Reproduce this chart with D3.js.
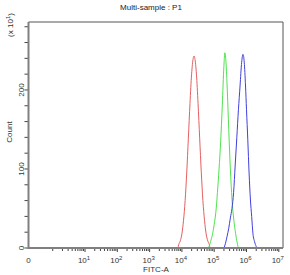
<!doctype html>
<html lang="en">
<head>
    <meta charset="utf-8">
    <title>Multi-sample : P1</title>
    <script src="https://d3js.org/d3.v7.min.js"></script>
    <style type="text/css">
    body { margin: 0; background: #fff; }
    text { font-family: "Liberation Sans", Arial, sans-serif; fill: #333; }
    .peak { fill: none; stroke-width: 1; }
    </style>
</head>

<body>
</body>

<script type="text/javascript">

    // x positions are log10(FITC-A), counts are in units of 10 (x 10^1)
    var redLog   = [3.88, 3.90, 3.95, 4.00, 4.05, 4.10, 4.15, 4.20, 4.25, 4.30, 4.35, 4.375,
                    4.40, 4.45, 4.50, 4.55, 4.60, 4.65, 4.70, 4.75, 4.80, 4.85, 4.87];
    var redCount = [0, 4, 9, 18, 35, 60, 96, 139, 183, 220, 240, 243,
                    240, 220, 183, 139, 96, 60, 35, 18, 9, 4, 0];

    var greenLog   = [4.80, 4.85, 4.90, 4.95, 5.00, 5.05, 5.10, 5.15, 5.20, 5.25, 5.30, 5.33,
                      5.36, 5.40, 5.45, 5.50, 5.55, 5.60, 5.65, 5.70, 5.75];
    var greenCount = [0, 3, 10, 18, 30, 45, 70, 100, 135, 180, 230, 247,
                      238, 205, 150, 100, 62, 38, 22, 9, 0];

    var blueLog   = [5.30, 5.35, 5.40, 5.45, 5.50, 5.55, 5.60, 5.65, 5.70, 5.75, 5.80, 5.85, 5.89,
                     5.93, 5.97, 6.00, 6.04, 6.08, 6.12, 6.16, 6.20, 6.25, 6.30, 6.33];
    var blueCount = [0, 6, 15, 25, 38, 50, 70, 105, 140, 175, 205, 235, 245,
                     235, 205, 175, 137, 95, 62, 40, 18, 8, 2, 0];

    var xDecades = [1, 2, 3, 4, 5, 6, 7];
    var yMajor = [0, 100, 200];
    var yMinor = [20, 40, 60, 80, 120, 140, 160, 180, 220, 240, 260, 280];

    var W = 290, H = 275;
    var pL = 28.5, pR = 283, pT = 22, pB = 248;

    var svg = d3.select("body")
    .append("svg")
    .attr("width", W)
    .attr("height", H);

    var x = d3.scaleLinear().domain([-0.75, 7.13]).range([pL, pR]);
    var y = d3.scaleLinear().domain([0, 286]).range([pB, pT]);

    // frame: top and right thin
    svg.append("path")
    .attr("d", "M" + pL + "," + pT + "H" + pR + "V" + pB)
    .attr("fill", "none")
    .attr("stroke", "#555")
    .attr("stroke-width", 1);

    // peaks
    var line = d3.line()
    .x(d => x(d[0]))
    .y(d => y(d[1]))
    .curve(d3.curveMonotoneX);

    var series = [
      {lg: redLog, ct: redCount, color: "#e46060"},
      {lg: greenLog, ct: greenCount, color: "#4fe24f"},
      {lg: blueLog, ct: blueCount, color: "#4040dc"}
    ];

    series.forEach(function(s) {
      svg.append("path")
      .attr("class", "peak")
      .attr("stroke", s.color)
      .attr("d", line(d3.zip(s.lg, s.ct)));
    });

    // x minor + major ticks
    var xTicks = [];
    for (var dec = 0; dec < 7; dec++) {
      for (var k = 1; k < 10; k++) xTicks.push({v: dec + Math.log10(k), major: k == 1 && dec > 0});
    }
    xTicks.push({v: 7, major: true});
    xTicks.push({v: 7 + Math.log10(2), major: false});

    svg.selectAll(".xt")
    .data(xTicks.filter(t => x(t.v) < pR - 1))
    .enter()
    .append("line")
    .attr("x1", d => x(d.v)).attr("x2", d => x(d.v))
    .attr("y1", pB).attr("y2", d => pB + (d.major ? 4 : 3))
    .attr("stroke", "#444")
    .attr("stroke-width", 1);

    // y ticks
    svg.selectAll(".yt")
    .data(yMajor.concat(yMinor))
    .enter()
    .append("line")
    .attr("x1", pL - 4).attr("x2", pL)
    .attr("y1", d => y(d)).attr("y2", d => y(d))
    .attr("stroke", "#444")
    .attr("stroke-width", 1);

    // left and bottom axes (thicker gray)
    svg.append("path")
    .attr("d", "M" + pL + "," + pT + "V" + pB + "H" + pR)
    .attr("fill", "none")
    .attr("stroke", "#808080")
    .attr("stroke-width", 2);

    // x tick labels
    svg.append("text")
    .attr("x", pL).attr("y", 263)
    .attr("text-anchor", "middle")
    .attr("font-size", 8)
    .text("0");

    xDecades.forEach(function(p) {
      var t = svg.append("text")
      .attr("x", x(p) - 1).attr("y", 263)
      .attr("text-anchor", "middle")
      .attr("font-size", 8);
      t.append("tspan").text("10");
      t.append("tspan").attr("dy", -3).attr("font-size", 6).text(p);
    });

    // y tick labels (rotated)
    yMajor.forEach(function(v) {
      svg.append("text")
      .attr("transform", "translate(24," + y(v) + ") rotate(-90)")
      .attr("text-anchor", "middle")
      .attr("font-size", 8)
      .text(v);
    });

    // axis titles
    svg.append("text")
    .attr("x", 151).attr("y", 10)
    .attr("text-anchor", "middle")
    .attr("font-size", 8)
    .style("fill", "#222")
    .text("Multi-sample : P1");

    svg.append("text")
    .attr("x", 156).attr("y", 272)
    .attr("text-anchor", "middle")
    .attr("font-size", 8)
    .text("FITC-A");

    svg.append("text")
    .attr("transform", "translate(12,132) rotate(-90)")
    .attr("text-anchor", "middle")
    .attr("font-size", 8)
    .text("Count");

    var u = svg.append("text")
    .attr("transform", "translate(13,25) rotate(-90)")
    .attr("text-anchor", "middle")
    .attr("font-size", 8);
    u.append("tspan").text("(x 10");
    u.append("tspan").attr("dy", -3).attr("font-size", 6).text("1");
    u.append("tspan").attr("dy", 3).text(")");

</script>
</html>
